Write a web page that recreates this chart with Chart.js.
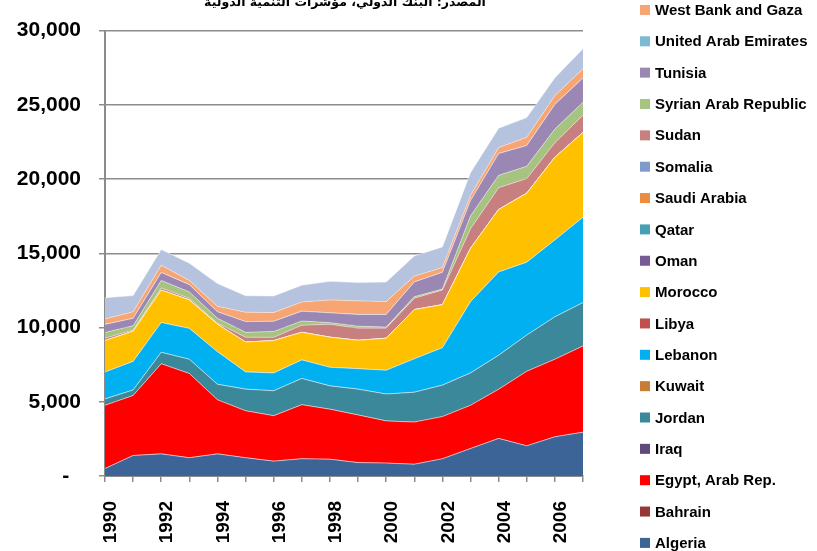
<!DOCTYPE html>
<html>
<head>
<meta charset="utf-8">
<script src="https://cdn.jsdelivr.net/npm/chart.js@4.4.1/dist/chart.umd.min.js"></script>
<style>
html,body{margin:0;padding:0;background:#fff;overflow:hidden;}
#wrap{position:absolute;left:0;top:0;width:817px;height:551px;}
</style>
</head>
<body>
<div id="wrap"><canvas id="c" width="817" height="551"></canvas></div>
<script>
// ---- data ----
const years = ['1990','1991','1992','1993','1994','1995','1996','1997','1998','1999','2000','2001','2002','2003','2004','2005','2006','2007'];
const yTicks = [0, 5000, 10000, 15000, 20000, 25000, 30000];
const titleText = 'المصدر: البنك الدولي، مؤشرات التنمية الدولية';

const algeria  = [500, 1380, 1490, 1230, 1490, 1230, 1000, 1160, 1130, 900, 870, 790, 1160, 1850, 2530, 2030, 2640, 2950];
const bahrain  = [0,0,0,0,0,0,0,0,0,0,0,0,0,0,0,0,0,0];
const egypt    = [4260, 4040, 6070, 5670, 3640, 3160, 3060, 3640, 3370, 3210, 2840, 2840, 2840, 2910, 3310, 5020, 5220, 5810];
const iraq     = [0,0,0,0,0,0,0,0,0,0,0,0,0,0,0,0,0,0];
const jordan   = [430, 370, 770, 960, 1050, 1460, 1680, 1770, 1570, 1740, 1810, 2010, 2120, 2180, 2290, 2440, 2860, 2920];
const kuwait   = [0,0,0,0,0,0,0,0,0,0,0,0,0,0,0,0,0,0];
const lebanon  = [1810, 1930, 2010, 2080, 2190, 1160, 1200, 1250, 1250, 1380, 1600, 2250, 2520, 4800, 5610, 4910, 5180, 5740];
const libya    = [0,0,0,0,0,0,0,0,0,0,0,0,0,0,0,0,0,0];
const morocco  = [2120, 2030, 2180, 1920, 1850, 2010, 2180, 1860, 2030, 1910, 2160, 3320, 2900, 3600, 4210, 4650, 5570, 5720];
const oman     = [0,0,0,0,0,0,0,0,0,0,0,0,0,0,0,0,0,0];
const qatar    = [0,0,0,0,0,0,0,0,0,0,0,0,0,0,0,0,0,0];
const saudi    = [0,0,0,0,0,0,0,0,0,0,0,0,0,0,0,0,0,0];
const somalia  = [0,0,0,0,0,0,0,0,0,0,0,0,0,0,0,0,0,0];
const sudan    = [160, 90, 150, 110, 70, 330, 220, 480, 870, 820, 680, 770, 980, 1310, 1470, 980, 980, 1160];
const syria    = [390, 280, 500, 430, 330, 330, 390, 280, 110, 130, 70, 100, 70, 870, 830, 830, 920, 870];
const tunisia  = [540, 500, 540, 490, 440, 720, 690, 660, 660, 790, 850, 990, 1130, 1030, 1470, 1400, 1660, 1640];
const uae      = [0,0,0,0,0,0,0,0,0,0,0,0,0,0,0,0,0,0];
const westBank = [370, 440, 490, 280, 370, 630, 590, 620, 870, 920, 870, 390, 330, 350, 400, 550, 590, 620];
const yemen    = [1420, 1090, 1050, 1160, 1530, 1110, 1110, 1130, 1250, 1230, 1310, 1360, 1380, 1530, 1300, 1330, 1200, 1350];

const seriesNames = ['Algeria','Bahrain','Egypt, Arab Rep.','Iraq','Jordan','Kuwait','Lebanon','Libya','Morocco','Oman','Qatar','Saudi Arabia','Somalia','Sudan','Syrian Arab Republic','Tunisia','United Arab Emirates','West Bank and Gaza','Yemen, Rep.'];
const seriesValues = [algeria,bahrain,egypt,iraq,jordan,kuwait,lebanon,libya,morocco,oman,qatar,saudi,somalia,sudan,syria,tunisia,uae,westBank,yemen];
const seriesColors = ['#3c6496','#953735','#ff0000','#604a7b','#3a8899','#c77c37','#00b0f0','#c0504d','#ffc000','#775b95','#45a0b6','#ec8c3e','#7d9ccc','#c87f7f','#a6c381','#9a87b3','#7bbad0','#f7a673','#b5c3de'];

const datasets = seriesNames.map((name, i) => ({
  label: name,
  data: seriesValues[i],
  backgroundColor: seriesColors[i],
  borderColor: 'rgba(255,255,255,0.55)',
  borderWidth: 0.8,
  pointRadius: 0,
  pointHoverRadius: 0,
  tension: 0,
  fill: i === 0 ? 'origin' : '-1'
}));

const FONT = '"Liberation Sans", Arial, sans-serif';

const decor = {
  id: 'decor',
  afterDraw(chart) {
    const ctx = chart.ctx;
    ctx.save();
    // title (partly cut by the top edge, as in the reference)
    ctx.font = 'bold 12.5px "DejaVu Sans", sans-serif';
    ctx.fillStyle = '#000';
    ctx.textAlign = 'center';
    ctx.textBaseline = 'alphabetic';
    ctx.direction = 'rtl';
    ctx.fillText(titleText, 345, 5.5);
    ctx.direction = 'ltr';
    // legend (reverse order, like the source)
    ctx.textAlign = 'left';
    ctx.textBaseline = 'middle';
    ctx.font = 'bold 15px ' + FONT;
    const n = seriesNames.length;
    for (let k = 0; k < n; k++) {
      const i = n - 1 - k;
      const yc = -21.4 + 31.35 * k;
      ctx.fillStyle = seriesColors[i];
      ctx.fillRect(640, yc - 5, 10, 10);
      ctx.fillStyle = '#000';
      ctx.fillText(seriesNames[i], 655, yc + 1);
    }
    ctx.restore();
  }
};

new Chart(document.getElementById('c'), {
  type: 'line',
  data: { labels: years, datasets },
  options: {
    responsive: false,
    animation: false,
    events: [],
    layout: { padding: { left: 0, right: 234, top: 18, bottom: 0 } },
    plugins: {
      legend: { display: false },
      title: { display: false },
      tooltip: { enabled: false },
      filler: { propagate: false }
    },
    scales: {
      x: {
        z: 1,
        offset: false,
        grid: { drawOnChartArea: false, drawTicks: true, tickLength: 6, color: '#8c8c8c', lineWidth: 1.5 },
        border: { display: true, color: '#8c8c8c', width: 2 },
        ticks: {
          autoSkip: false,
          maxRotation: 90,
          minRotation: 90,
          padding: 19,
          labelOffset: 6,
          color: '#000',
          font: { family: FONT, size: 19, weight: 'bold' },
          callback: (v, i) => (i % 2 === 0 ? years[i] : '')
        },
        afterFit: s => { s.height = 75; }
      },
      y: {
        stacked: true,
        min: 0,
        max: 30000,
        afterBuildTicks: s => { s.ticks = yTicks.map(v => ({ value: v })); },
        grid: { color: '#8c8c8c', lineWidth: 1.5, tickLength: 6 },
        border: { display: true, color: '#8c8c8c', width: 2 },
        ticks: {
          padding: 18,
          color: '#000',
          font: { family: FONT, size: 21, weight: 'bold' },
          callback: v => (v === 0 ? '-  ' : v.toLocaleString('en-US'))
        },
        afterFit: s => { s.width = 105; }
      }
    }
  },
  plugins: [decor]
});
</script>
</body>
</html>
